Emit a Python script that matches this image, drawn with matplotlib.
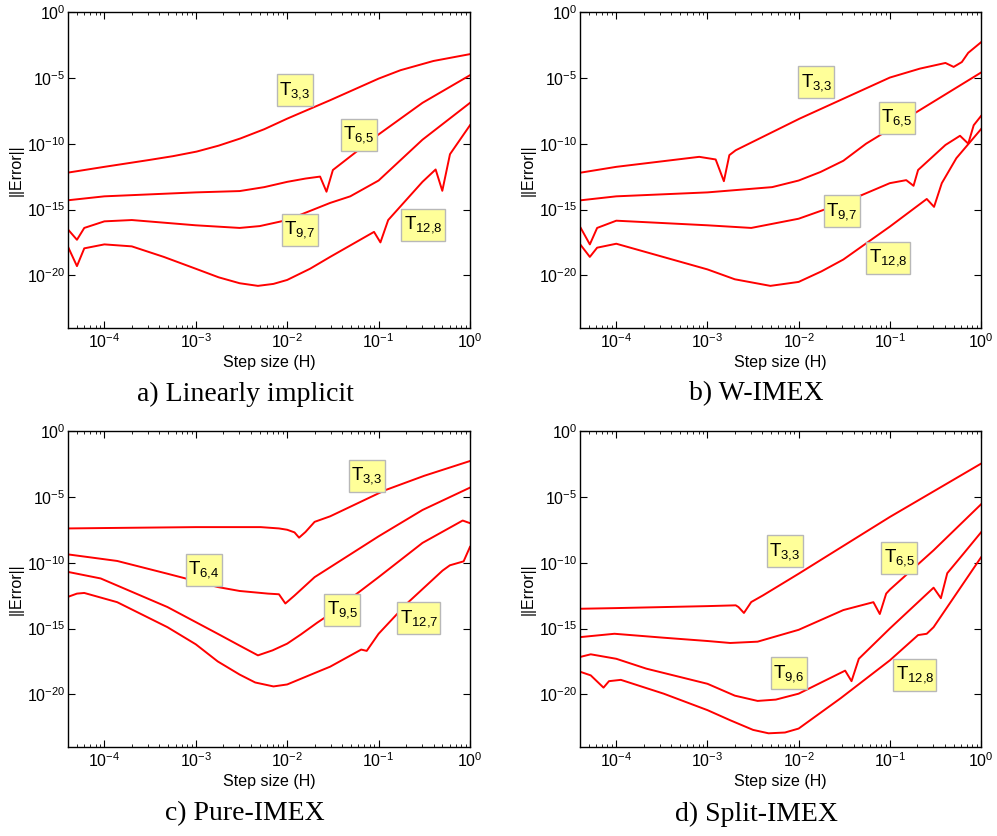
import numpy as np
import matplotlib
matplotlib.use('Agg')
import matplotlib.pyplot as plt
from matplotlib.path import Path

plt.rcParams['font.family'] = ['Liberation Sans', 'DejaVu Sans']
plt.rcParams['mathtext.fontset'] = 'custom'
plt.rcParams['mathtext.rm'] = 'Liberation Sans'
plt.rcParams['mathtext.it'] = 'Liberation Sans:italic'
plt.rcParams['mathtext.bf'] = 'Liberation Sans:bold'

# log10(step size), log10(error)
# a) Linearly implicit
a_t33_h = [-4.40, -4.00, -3.52, -3.25, -2.99, -2.75, -2.51, -2.25, -2.00, -1.53, -1.00, -0.76, -0.40, 0.00]
a_t33_e = [-12.2, -11.76, -11.25, -10.95, -10.6, -10.15, -9.6, -8.9, -8.1, -6.7, -5.06, -4.42, -3.72, -3.2]
a_t65_h = [-4.40, -4.00, -3.00, -2.52, -2.25, -2.00, -1.80, -1.64, -1.57, -1.50, -1.00, -0.52, 0.00]
a_t65_e = [-14.3, -14.0, -13.7, -13.6, -13.3, -12.9, -12.65, -12.5, -13.65, -12.0, -9.3, -6.9, -4.8]
a_t97_h = [-4.40, -4.30, -4.22, -4.00, -3.70, -3.00, -2.52, -2.30, -2.00, -1.53, -1.31, -1.00,
           -0.76, -0.52, -0.26, 0.00]
a_t97_e = [-16.5, -17.3, -16.4, -15.9, -15.8, -16.2, -16.4, -16.26, -15.8, -14.5, -14.0, -12.8,
           -11.25, -9.7, -8.3, -6.9]
a_t128_h = [-4.40, -4.30, -4.22, -4.00, -3.70, -3.35, -3.00, -2.75, -2.52, -2.32, -2.15, -2.00,
            -1.75, -1.53, -1.05, -0.98, -0.895, -0.52, -0.376, -0.303, -0.219, 0.00]
a_t128_e = [-17.8, -19.3, -17.95, -17.65, -17.8, -18.6, -19.5, -20.15, -20.6, -20.8, -20.65, -20.35,
            -19.5, -18.6, -16.7, -17.5, -15.8, -12.9, -11.96, -13.58, -10.8, -8.6]

# b) W-IMEX
b_t33_h = [-4.39, -4.00, -3.09, -2.91, -2.82, -2.76, -2.69, -1.99, -1.00, -0.67, -0.39, -0.30, -0.21, -0.14, 0.00]
b_t33_e = [-12.2, -11.76, -11.0, -11.2, -12.85, -10.87, -10.5, -8.1, -4.98, -4.3, -3.87, -4.17, -3.8, -3.1, -2.3]
b_t65_h = [-4.39, -4.00, -3.00, -2.29, -2.00, -1.76, -1.51, -1.26, -1.00, -0.73, 0.00]
b_t65_e = [-14.3, -14.0, -13.7, -13.3, -12.8, -12.15, -11.3, -10.0, -8.9, -7.7, -4.6]
b_t97_h = [-4.39, -4.29, -4.21, -4.00, -3.00, -2.52, -2.00, -1.51, -1.00, -0.82, -0.74, -0.69,
           -0.39, -0.23, -0.14, -0.08, 0.00]
b_t97_e = [-16.4, -17.65, -16.4, -15.85, -16.2, -16.4, -15.7, -14.5, -13.0, -12.77, -13.2, -12.0,
           -10.1, -9.4, -10.0, -8.6, -7.9]
b_t128_h = [-4.39, -4.29, -4.21, -4.00, -3.00, -2.70, -2.31, -2.00, -1.75, -1.51, -1.00, -0.595,
            -0.515, -0.43, -0.27, 0.00]
b_t128_e = [-17.7, -18.6, -17.9, -17.6, -19.55, -20.3, -20.8, -20.5, -19.7, -18.8, -16.3, -14.2,
            -14.8, -13.0, -11.1, -8.9]

# c) Pure-IMEX
c_t33_h = [-4.40, -4.00, -3.00, -2.29, -2.09, -2.00, -1.92, -1.87, -1.80, -1.70, -1.53, -0.93, -0.50, 0.00]
c_t33_e = [-7.4, -7.37, -7.3, -7.3, -7.4, -7.5, -7.7, -8.1, -7.67, -6.9, -6.48, -4.5, -3.4, -2.28]
c_t64_h = [-4.40, -3.86, -3.31, -3.00, -2.76, -2.52, -2.21, -2.09, -2.02, -1.92, -1.70, -1.00, -0.52, 0.00]
c_t64_e = [-9.37, -9.87, -10.84, -11.4, -11.85, -12.15, -12.35, -12.4, -13.1, -12.5, -11.1, -8.0, -6.0, -4.3]
c_t95_h = [-4.40, -4.04, -3.31, -2.76, -2.52, -2.32, -2.16, -2.00, -1.85, -1.67, -1.53, -1.00, -0.52, -0.08, 0.00]
c_t95_e = [-10.7, -11.2, -13.37, -15.4, -16.3, -17.04, -16.66, -16.15, -15.45, -14.55, -13.9, -11.1, -8.5, -6.8, -7.0]
c_t127_h = [-4.40, -4.30, -4.22, -3.86, -3.31, -3.00, -2.76, -2.52, -2.35, -2.15, -2.00, -1.67, -1.53,
            -1.19, -1.13, -1.00, -0.69, -0.30, -0.22, -0.07, 0.00]
c_t127_e = [-12.6, -12.35, -12.3, -13.0, -14.9, -16.2, -17.5, -18.5, -19.1, -19.4, -19.25, -18.3, -17.9,
            -16.6, -16.7, -15.4, -13.1, -10.6, -10.2, -9.9, -8.8]

# d) Split-IMEX
d_t33_h = [-4.39, -4.00, -3.00, -2.69, -2.66, -2.60, -2.52, -2.39, -2.00, -1.00, 0.00]
d_t33_e = [-13.5, -13.45, -13.3, -13.24, -13.37, -13.82, -12.99, -12.48, -10.84, -6.53, -2.48]
d_t65_h = [-4.39, -4.02, -3.48, -3.00, -2.75, -2.45, -2.00, -1.51, -1.18, -1.11, -1.04, -1.00, -0.52, 0.00]
d_t65_e = [-15.65, -15.4, -15.7, -15.95, -16.1, -16.0, -15.1, -13.6, -13.0, -13.9, -12.35, -12.05, -9.06, -5.57]
d_t96_h = [-4.39, -4.28, -4.00, -3.67, -3.00, -2.70, -2.45, -2.25, -2.00, -1.49, -1.42, -1.34, -1.00,
           -0.52, -0.44, -0.37, -0.19, 0.00]
d_t96_e = [-17.15, -16.96, -17.3, -18.05, -19.2, -20.1, -20.5, -20.4, -19.95, -18.2, -19.0, -17.3, -15.0,
           -11.9, -12.7, -10.8, -9.3, -7.7]
d_t128_h = [-4.39, -4.28, -4.14, -4.08, -3.95, -3.48, -3.00, -2.75, -2.50, -2.33, -2.15, -2.00, -1.54,
            -1.00, -0.69, -0.595, -0.52, 0.00]
d_t128_e = [-18.3, -18.56, -19.49, -19.0, -18.9, -19.95, -21.2, -21.97, -22.7, -22.96, -22.9, -22.6, -20.3,
            -17.42, -15.5, -15.4, -14.9, -9.6]

panels = [
    ('a) Linearly implicit',
     [(a_t33_h, a_t33_e), (a_t65_h, a_t65_e), (a_t97_h, a_t97_e), (a_t128_h, a_t128_e)],
     ['3,3', '6,5', '9,7', '12,8'],
     [(0.565, 0.753), (0.724, 0.611), (0.577, 0.31), (0.883, 0.326)]),
    ('b) W-IMEX',
     [(b_t33_h, b_t33_e), (b_t65_h, b_t65_e), (b_t97_h, b_t97_e), (b_t128_h, b_t128_e)],
     ['3,3', '6,5', '9,7', '12,8'],
     [(0.589, 0.778), (0.79, 0.665), (0.653, 0.37), (0.768, 0.222)]),
    ('c) Pure-IMEX',
     [(c_t33_h, c_t33_e), (c_t64_h, c_t64_e), (c_t95_h, c_t95_e), (c_t127_h, c_t127_e)],
     ['3,3', '6,4', '9,5', '12,7'],
     [(0.744, 0.858), (0.338, 0.56), (0.682, 0.434), (0.873, 0.408)]),
    ('d) Split-IMEX',
     [(d_t33_h, d_t33_e), (d_t65_h, d_t65_e), (d_t96_h, d_t96_e), (d_t128_h, d_t128_e)],
     ['3,3', '6,5', '9,6', '12,8'],
     [(0.511, 0.62), (0.796, 0.598), (0.521, 0.234), (0.835, 0.228)]),
]


def tall_box(x0, y0, width, height, mutation_size):
    # label box: little side padding, more top/bottom padding
    px = 0.12 * mutation_size
    py = 0.28 * mutation_size
    verts = [(x0 - px, y0 - py), (x0 + width + px, y0 - py),
             (x0 + width + px, y0 + height + py), (x0 - px, y0 + height + py),
             (x0 - px, y0 - py)]
    return Path(verts, closed=True)


W, H = 997, 836
fig = plt.figure(figsize=(W / 100, H / 100), dpi=100)

# axes boxes in pixels: left, top, right, bottom
boxes = [(68, 12, 470, 328), (580, 12, 981, 328), (68, 431, 470, 747), (580, 431, 981, 747)]
caption_pos = [(245, 394), (756, 394), (245, 814), (756, 814)]

for (title, curves, labels, lpos), (l, t, r, b), (cx, cy) in zip(panels, boxes, caption_pos):
    ax = fig.add_axes([l / W, 1 - b / H, (r - l) / W, (b - t) / H])
    for hx, ey in curves:
        ax.plot(10 ** np.array(hx), 10 ** np.array(ey), color='red', lw=1.4)
    ax.set_xscale('log')
    ax.set_yscale('log')
    ax.set_xlim(4e-5, 1)
    ax.set_ylim(1e-24, 1)
    ax.set_yticks([1e0, 1e-5, 1e-10, 1e-15, 1e-20])
    ax.yaxis.set_minor_locator(matplotlib.ticker.NullLocator())
    ax.set_xticks([1e-4, 1e-3, 1e-2, 1e-1, 1e0])
    ax.xaxis.set_minor_locator(matplotlib.ticker.LogLocator(base=10, subs=np.arange(2, 10)))
    ax.xaxis.set_minor_formatter(matplotlib.ticker.NullFormatter())
    ax.tick_params(which='both', direction='in', top=True, right=True, labelsize=11.5)
    ax.tick_params(which='major', length=5, width=0.8)
    ax.tick_params(which='minor', length=2.5, width=0.6)
    ax.tick_params(axis='x', pad=3)
    ax.tick_params(axis='y', pad=2)
    for s in ax.spines.values():
        s.set_linewidth(1.0)
    ax.set_xlabel('Step size (H)', fontsize=11.5, labelpad=3)
    ax.set_ylabel('||Error||', fontsize=11.5, labelpad=2)
    for lab, (fx, fy) in zip(labels, lpos):
        sub = lab.replace(',', '{,}')
        ax.text(fx, fy, r'$\mathregular{T_{%s}}$' % sub, transform=ax.transAxes,
                ha='center', va='center', fontsize=13.5,
                bbox=dict(boxstyle=tall_box, fc='#ffff99', ec='#b8b8b8', lw=1.0))
    fig.text(cx / W, 1 - cy / H, title, ha='center', va='center',
             fontsize=20, family='Liberation Serif')

fig.savefig('out.png', dpi=100)
